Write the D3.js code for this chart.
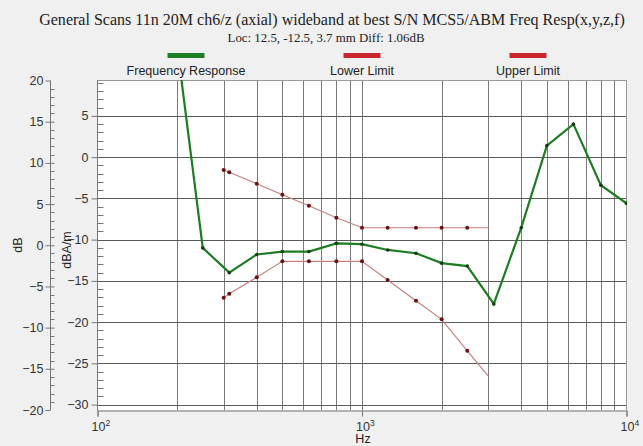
<!DOCTYPE html>
<html>
<head>
<meta charset="utf-8">
<script src="https://cdn.jsdelivr.net/npm/d3@7"></script>
<style>
  html, body { margin: 0; padding: 0; background: #f0f0f0; }
  svg { display: block; }
</style>
</head>
<body>
<svg id="chart" width="643" height="446"></svg>
<script>
// ---- data ----
const titleText = "General Scans 11n 20M ch6/z (axial) wideband at best S/N MCS5/ABM Freq Resp(x,y,z,f)";
const subtitleText = "Loc: 12.5, -12.5, 3.7 mm Diff: 1.06dB";
const legendNames = ["Frequency Response", "Lower Limit", "Upper Limit"];

const freqs = [200, 250, 315, 400, 500, 630, 800, 1000, 1250, 1600, 2000, 2500, 3150, 4000, 5000, 6300, 8000, 10000];
const response = [13.5, -11.0, -14.0, -11.8, -11.45, -11.45, -10.45, -10.55, -11.25, -11.65, -12.85, -13.2, -17.8, -8.55, 1.4, 4.0, -3.4, -5.6];

const limitFreqs = [300, 315, 400, 500, 630, 800, 1000, 1250, 1600, 2000, 2500, 3000];
const lowerLimit = [-17.05, -16.55, -14.57, -12.63, -12.63, -12.63, -12.63, -14.9, -17.4, -19.66, -23.47, -26.5];
const upperLimit = [-1.56, -1.84, -3.22, -4.56, -5.89, -7.35, -8.56, -8.56, -8.56, -8.56, -8.56, -8.56];

const dbTicks = [20, 15, 10, 5, 0, -5, -10, -15, -20];
const dbaTicks = [5, 0, -5, -10, -15, -20, -25, -30];
const xMajorTicks = [100, 1000, 10000];
const xTickExp = ["2", "3", "4"];

// ---- layout ----
const svg = d3.select("#chart");
const L = 97.5, R = 627, T = 80, B = 410;
const x = d3.scaleLog().domain([100, 10000]).range([L, R - 0.5]);
const y = d3.scaleLinear().domain([-30.65, 9.35]).range([B, T]);
const yDb = d3.scaleLinear().domain([-20, 20]).range([B, T + 0.5]);
const sans = "'Liberation Sans', Arial, sans-serif";
const serif = "'Liberation Serif', 'Times New Roman', serif";
const green = "#1d7d22", red = "#c8262c";

svg.append("rect").attr("width", 643).attr("height", 446).attr("fill", "#f0f0f0");
svg.append("rect").attr("x", L).attr("y", T).attr("width", R - L).attr("height", B - T).attr("fill", "#fff");

// title
function fitText(sel, target) {
  const w = sel.node().getComputedTextLength();
  const fs = parseFloat(sel.attr("font-size"));
  sel.attr("font-size", fs * target / w);
}
const t1 = svg.append("text").attr("x", 332).attr("y", 24.5).attr("text-anchor", "middle")
  .attr("font-family", serif).attr("font-size", 16).attr("fill", "#222").text(titleText);
fitText(t1, 586);
const t2 = svg.append("text").attr("x", 326).attr("y", 41.5).attr("text-anchor", "middle")
  .attr("font-family", serif).attr("font-size", 13).attr("fill", "#222").text(subtitleText);
fitText(t2, 197);

// legend
const legendX = [186, 362, 528];
const legendColors = [green, red, red];
legendNames.forEach((n, i) => {
  svg.append("rect").attr("x", legendX[i] - 18.5).attr("y", 53).attr("width", 37).attr("height", 5).attr("fill", legendColors[i]);
  svg.append("text").attr("x", legendX[i]).attr("y", 75).attr("text-anchor", "middle")
    .attr("font-family", sans).attr("font-size", 12.5).attr("fill", "#222").text(n);
});

// grid
const vGrid = [];
[100, 1000].forEach(d => { for (let k = 2; k <= 9; k++) vGrid.push(d * k); });
vGrid.push(1000);
const g = svg.append("g");
g.selectAll(".vg").data(vGrid).enter().append("line")
  .attr("x1", d => Math.round(x(d)) + 0.5).attr("x2", d => Math.round(x(d)) + 0.5)
  .attr("y1", T).attr("y2", B).attr("stroke", "#7a7a7a").attr("stroke-width", 1);
g.selectAll(".hg").data(dbaTicks).enter().append("line")
  .attr("x1", L).attr("x2", R).attr("y1", d => Math.round(y(d)) + 0.5).attr("y2", d => Math.round(y(d)) + 0.5)
  .attr("stroke", "#5a5a5a").attr("stroke-width", 1);

// frame
const axisColor = "#777";
svg.append("line").attr("x1", L).attr("x2", R).attr("y1", T + 0.5).attr("y2", T + 0.5).attr("stroke", "#999");
svg.append("line").attr("x1", R - 0.5).attr("x2", R - 0.5).attr("y1", T).attr("y2", B).attr("stroke", "#999");

// x axis
const xAxis = d3.axisBottom(x).tickValues(xMajorTicks).tickSize(6).tickFormat("");
const xg = svg.append("g").attr("transform", `translate(0,${B + 0.5})`).call(xAxis);
xg.select(".domain").attr("stroke", axisColor);
xg.selectAll(".tick line").attr("stroke", axisColor);
xMajorTicks.forEach((d, i) => {
  const tx = svg.append("text").attr("x", x(d) - 6).attr("y", 430.5)
    .attr("font-family", sans).attr("font-size", 12.5).attr("fill", "#333");
  tx.append("tspan").text("10");
  tx.append("tspan").attr("dy", -5).attr("font-size", 8.5).text(xTickExp[i]);
});
svg.append("text").attr("x", 363).attr("y", 443).attr("text-anchor", "middle")
  .attr("font-family", sans).attr("font-size", 12.5).attr("fill", "#222").text("Hz");

// dBA/m axis
const yAxis = d3.axisLeft(y).tickValues(dbaTicks).tickSize(6).tickPadding(3);
const yg = svg.append("g").attr("transform", `translate(${L},0)`).call(yAxis);
yg.select(".domain").remove();
yg.selectAll(".tick line").attr("stroke", axisColor);
yg.selectAll(".tick text").attr("font-family", sans).attr("font-size", 12.5).attr("fill", "#333");
svg.append("line").attr("x1", L).attr("x2", L).attr("y1", T).attr("y2", B + 0.5).attr("stroke", axisColor);
const dbaMinor = d3.range(-30, 10, 1).filter(v => v % 5 !== 0);
svg.selectAll(".ym").data(dbaMinor).enter().append("line")
  .attr("x1", L).attr("x2", L + 6).attr("y1", d => Math.round(y(d)) + 0.5).attr("y2", d => Math.round(y(d)) + 0.5)
  .attr("stroke", axisColor);

// dB axis
const dbX = 50.5;
const dbAxis = d3.axisLeft(yDb).tickValues(dbTicks).tickSize(5).tickPadding(2);
const dg = svg.append("g").attr("transform", `translate(${dbX},0)`).call(dbAxis);
dg.select(".domain").attr("stroke", axisColor).attr("d", `M0,${yDb(20)}V${yDb(-20)}`);
dg.selectAll(".tick line").attr("stroke", axisColor).attr("x2", -5).attr("x1", 4);
dg.select(".tick:first-of-type line").attr("x1", 0);
dg.select(".tick:last-of-type line").attr("x1", 0);
dg.selectAll(".tick text").attr("font-family", sans).attr("font-size", 12.5).attr("fill", "#333");
const dbMinor = d3.range(-19, 20, 1).filter(v => v % 5 !== 0);
svg.selectAll(".dm").data(dbMinor).enter().append("line")
  .attr("x1", dbX).attr("x2", dbX + 4).attr("y1", d => Math.round(yDb(d)) + 0.5).attr("y2", d => Math.round(yDb(d)) + 0.5)
  .attr("stroke", axisColor);

svg.append("text").attr("transform", "translate(22,245) rotate(-90)").attr("text-anchor", "middle")
  .attr("font-family", sans).attr("font-size", 12.5).attr("fill", "#222").text("dB");
svg.append("text").attr("transform", "translate(71,250) rotate(-90)").attr("text-anchor", "middle")
  .attr("font-family", sans).attr("font-size", 12.5).attr("fill", "#222").text("dBA/m");

// clip
svg.append("clipPath").attr("id", "clip").append("rect").attr("x", L).attr("y", T).attr("width", R - L).attr("height", B - T);
const plot = svg.append("g").attr("clip-path", "url(#clip)");

const line = d3.line().x(d => x(d[0])).y(d => y(d[1]));

// limits
function drawLimit(vals) {
  const pts = limitFreqs.map((f, i) => [f, vals[i]]);
  plot.append("path").attr("d", line(pts)).attr("fill", "none").attr("stroke", "#c98080").attr("stroke-width", 1.2);
  plot.selectAll(null).data(pts.slice(0, -1)).enter().append("circle")
    .attr("cx", d => x(d[0])).attr("cy", d => y(d[1])).attr("r", 2).attr("fill", "#6a1010");
}
drawLimit(upperLimit);
drawLimit(lowerLimit);

// response
const rp = freqs.map((f, i) => [f, response[i]]);
plot.append("path").attr("d", line(rp)).attr("fill", "none").attr("stroke", green).attr("stroke-width", 2.2);
plot.selectAll(null).data(rp).enter().append("circle")
  .attr("cx", d => x(d[0])).attr("cy", d => y(d[1])).attr("r", 1.8).attr("fill", "#133a13");
</script>
</body>
</html>
